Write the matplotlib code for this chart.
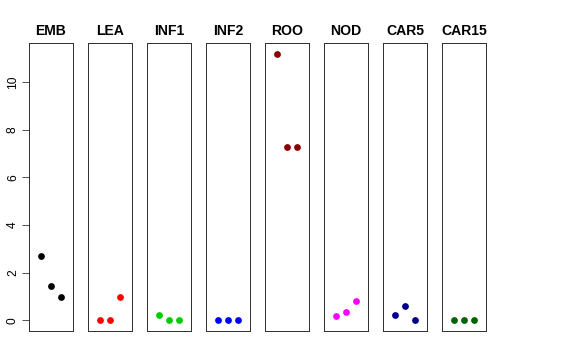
import numpy as np
import matplotlib
matplotlib.use("Agg")
import matplotlib.pyplot as plt

# one panel per tissue, three replicates each
tissues = ["EMB", "LEA", "INF1", "INF2", "ROO", "NOD", "CAR5", "CAR15"]
colours = ["black", "red", "#00CD00", "blue", "#8B0000", "magenta", "#00008B", "#006400"]
emb = [2.7, 1.43, 0.97]
lea = [0.0, 0.0, 0.98]
inf1 = [0.22, 0.0, 0.0]
inf2 = [0.0, 0.0, 0.0]
roo = [11.2, 7.3, 7.3]
nod = [0.2, 0.34, 0.8]
car5 = [0.23, 0.6, 0.0]
car15 = [0.0, 0.0, 0.0]
values = [emb, lea, inf1, inf2, roo, nod, car5, car15]
yticks = [0, 2, 4, 6, 8, 10]

plt.rcParams["font.family"] = ["Liberation Sans", "DejaVu Sans"]

fig = plt.figure(figsize=(8, 5), dpi=72)
W, H = 576.0, 360.0
top, bottom = 43, 331
ymax = max(max(v) for v in values)
pad = 0.04 * ymax

for i, name in enumerate(tissues):
    left = 29 + 59 * i
    ax = fig.add_axes([left / W, 1 - bottom / H, 44 / W, (bottom - top) / H])
    ax.scatter([1, 2, 3], values[i], s=46, color=colours[i], zorder=3, linewidths=0)
    ax.set_xlim(-0.16, 4.16)
    ax.set_ylim(-pad, ymax + pad)
    ax.set_xticks([])
    ax.set_title(name, fontsize=14, fontweight="bold", pad=8)
    for sp in ax.spines.values():
        sp.set_linewidth(1.0)
        sp.set_color("#333333")
    if i == 0:
        ax.set_yticks(yticks)
        ax.set_yticklabels([str(t) for t in yticks], rotation=90, va="center", fontsize=12)
        ax.tick_params(axis="y", length=7, width=1, color="#555555", pad=3)
    else:
        ax.set_yticks([])

fig.savefig("out.png", dpi=72)
